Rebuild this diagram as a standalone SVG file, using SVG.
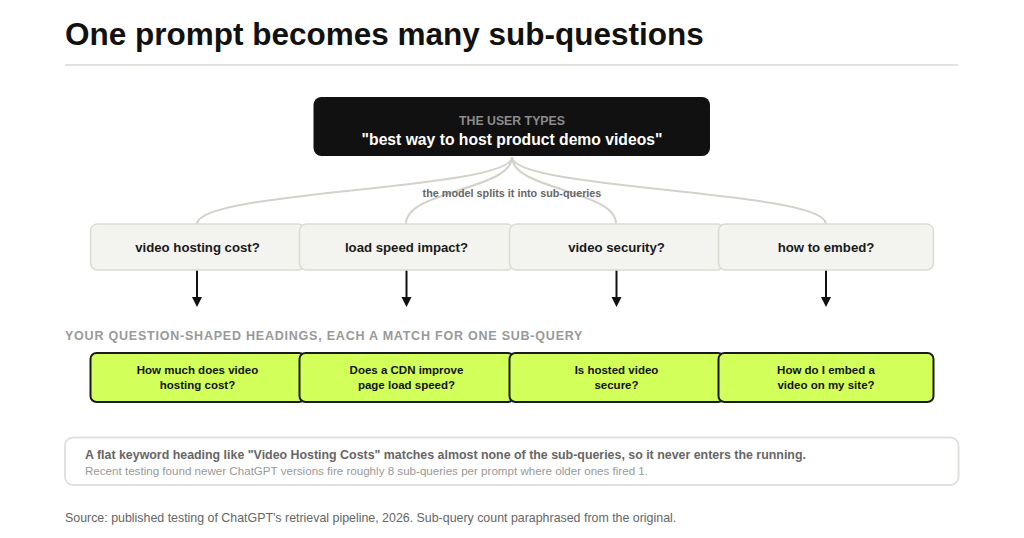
<svg xmlns="http://www.w3.org/2000/svg" width="1024" height="538" viewBox="0 0 1024 538">
<defs>
<style>
text{font-family:"Liberation Sans",Arial,sans-serif}
.title{font-size:31.5px;font-weight:bold;fill:#111}
.q{fill:#f3f3ef;stroke:#dcdcd4;stroke-width:1.5}
.ql{font-size:13.2px;font-weight:bold;fill:#1a1a1a;text-anchor:middle}
.h{fill:#d2ff5a;stroke:#1a1a1a;stroke-width:2}
.hl{font-size:11.5px;font-weight:bold;fill:#111;text-anchor:middle}
.curve{fill:none;stroke:#d2d2ca;stroke-width:2}
.arr{stroke:#111;stroke-width:2}
</style>
</defs>
<rect width="1024" height="538" fill="#fff"/>
<text class="title" x="65" y="45">One prompt becomes many sub-questions</text>
<line x1="65" y1="65" x2="958" y2="65" stroke="#e2e2de" stroke-width="2"/>

<g id="connectors">
<path class="curve" d="M512,157 C512,190 197,190 197,224"/>
<path class="curve" d="M512,157 C512,190 406,190 406,224"/>
<path class="curve" d="M512,157 C512,190 616,190 616,224"/>
<path class="curve" d="M512,157 C512,190 826,190 826,224"/>
<line class="arr" x1="197" y1="270" x2="197" y2="298"/>
<path d="M192,297 L202,297 L197,307 Z" fill="#111"/>
<line class="arr" x1="406.5" y1="270" x2="406.5" y2="298"/>
<path d="M401.5,297 L411.5,297 L406.5,307 Z" fill="#111"/>
<line class="arr" x1="616.5" y1="270" x2="616.5" y2="298"/>
<path d="M611.5,297 L621.5,297 L616.5,307 Z" fill="#111"/>
<line class="arr" x1="826" y1="270" x2="826" y2="298"/>
<path d="M821,297 L831,297 L826,307 Z" fill="#111"/>
<text x="512" y="197" text-anchor="middle" font-size="10.8" font-weight="bold" fill="#666">the model splits it into sub-queries</text>
</g>

<g id="prompt">
<rect x="313.5" y="97" width="396.5" height="59" rx="8" fill="#111"/>
<text x="512" y="125" text-anchor="middle" font-size="12.3" font-weight="bold" fill="#8c8c8c">THE USER TYPES</text>
<text x="512" y="144.5" text-anchor="middle" font-size="15.7" font-weight="bold" fill="#fff">"best way to host product demo videos"</text>
</g>

<g id="sq1"><rect class="q" x="90.5" y="224" width="214.5" height="46" rx="7"/><text class="ql" x="197.5" y="252">video hosting cost?</text></g>
<g id="sq2"><rect class="q" x="299.5" y="224" width="214.5" height="46" rx="7"/><text class="ql" x="406.5" y="252">load speed impact?</text></g>
<g id="sq3"><rect class="q" x="509.5" y="224" width="214.5" height="46" rx="7"/><text class="ql" x="616.5" y="252">video security?</text></g>
<g id="sq4"><rect class="q" x="718.5" y="224" width="215" height="46" rx="7"/><text class="ql" x="826" y="252">how to embed?</text></g>

<text x="65" y="340" font-size="12.5" font-weight="bold" fill="#999" letter-spacing="0.78">YOUR QUESTION-SHAPED HEADINGS, EACH A MATCH FOR ONE SUB-QUERY</text>

<g id="h1"><rect class="h" x="90.5" y="353" width="214.5" height="49" rx="6"/><text class="hl" x="197.5" y="374">How much does video</text><text class="hl" x="197.5" y="389">hosting cost?</text></g>
<g id="h2"><rect class="h" x="299.5" y="353" width="214.5" height="49" rx="6"/><text class="hl" x="406.5" y="374">Does a CDN improve</text><text class="hl" x="406.5" y="389">page load speed?</text></g>
<g id="h3"><rect class="h" x="509.5" y="353" width="214.5" height="49" rx="6"/><text class="hl" x="616.5" y="374">Is hosted video</text><text class="hl" x="616.5" y="389">secure?</text></g>
<g id="h4"><rect class="h" x="718.5" y="353" width="215" height="49" rx="6"/><text class="hl" x="826" y="374">How do I embed a</text><text class="hl" x="826" y="389">video on my site?</text></g>

<g id="note">
<rect x="65" y="437.5" width="893.5" height="47.5" rx="8" fill="#fff" stroke="#e0e0dc" stroke-width="2"/>
<text x="85" y="458.5" font-size="12.4" font-weight="bold" fill="#666">A flat keyword heading like "Video Hosting Costs" matches almost none of the sub-queries, so it never enters the running.</text>
<text x="85" y="475" font-size="11.6" fill="#999">Recent testing found newer ChatGPT versions fire roughly 8 sub-queries per prompt where older ones fired 1.</text>
</g>

<text x="65" y="522" font-size="12.4" fill="#666">Source: published testing of ChatGPT's retrieval pipeline, 2026. Sub-query count paraphrased from the original.</text>
</svg>
